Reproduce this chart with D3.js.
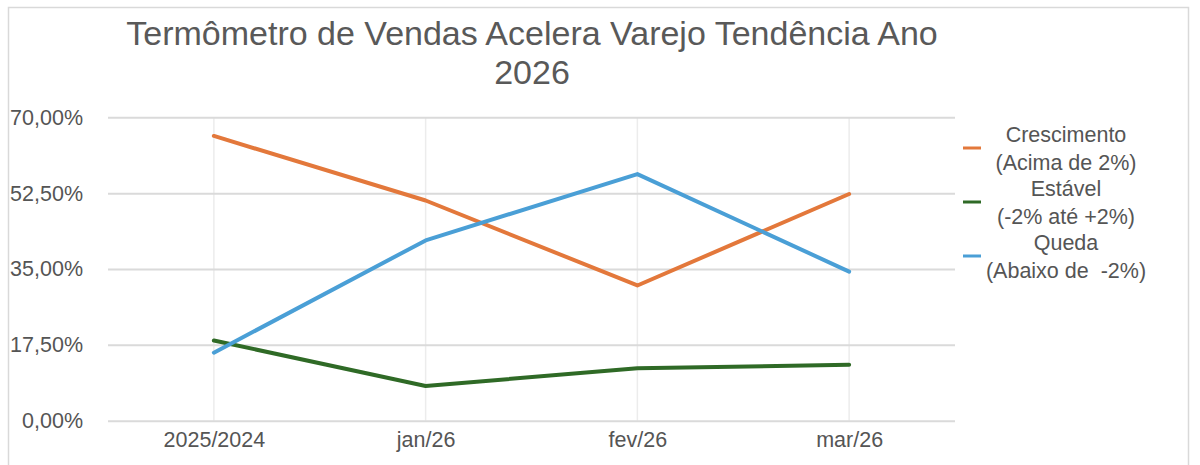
<!DOCTYPE html>
<html>
<head>
<meta charset="utf-8">
<script src="https://cdn.jsdelivr.net/npm/d3@7"></script>
<style>
  body { margin: 0; background: #fff; }
  text { font-family: "Liberation Sans", Arial, sans-serif; }
</style>
</head>
<body>
<div id="chart"></div>
<script>
// categories and series (percent)
var categories = ["2025/2024", "jan/26", "fev/26", "mar/26"];
var crescimento = [65.7, 50.8, 31.2, 52.3];
var estavel = [18.5, 8.0, 12.1, 12.9];
var queda = [15.7, 41.6, 56.9, 34.4];
var yTicks = [0, 17.5, 35, 52.5, 70];

var seriesNames = ["Crescimento\n(Acima de 2%)", "Estável\n(-2% até +2%)", "Queda\n(Abaixo de  -2%)"];
var seriesValues = [crescimento, estavel, queda];
var colors = ["#e3783b", "#2f6a26", "#4a9fd6"];

var W = 1200, H = 465;
var plotLeft = 108, plotRight = 955, plotTop = 117.3, plotBottom = 420.7;

var svg = d3.select("#chart").append("svg")
    .attr("width", W)
    .attr("height", H);

// outer frame
svg.append("rect")
    .attr("x", 8.5).attr("y", 7.5)
    .attr("width", 1180).attr("height", 470)
    .attr("fill", "none")
    .attr("stroke", "#d9d9d9")
    .attr("stroke-width", 1.5);

var x = d3.scalePoint().domain(categories).range([plotLeft, plotRight]).padding(0.5);
var y = d3.scaleLinear().domain([0, 70]).range([plotBottom, plotTop]);

// vertical gridlines
svg.append("g").selectAll("line")
    .data(categories)
    .enter().append("line")
    .attr("x1", function(d) { return x(d); })
    .attr("x2", function(d) { return x(d); })
    .attr("y1", plotTop).attr("y2", plotBottom)
    .attr("stroke", "#ececec")
    .attr("stroke-width", 1.5);

// horizontal gridlines + y labels
var yAxis = svg.append("g")
    .attr("transform", "translate(" + plotLeft + ",0)")
    .call(d3.axisLeft(y).tickValues(yTicks)
        .tickSize(-(plotRight - plotLeft))
        .tickPadding(25)
        .tickFormat(function(d) { return d.toFixed(2).replace(".", ",") + "%"; }));
yAxis.select(".domain").remove();
yAxis.selectAll(".tick line").attr("stroke", "#dadada").attr("stroke-width", 2);
yAxis.selectAll(".tick text")
    .attr("fill", "#555")
    .style("font-size", "21.5px");

// x labels
var xAxis = svg.append("g")
    .attr("transform", "translate(0," + plotBottom + ")")
    .call(d3.axisBottom(x).tickSize(0).tickPadding(11));
xAxis.select(".domain").remove();
xAxis.selectAll(".tick text")
    .attr("fill", "#555")
    .style("font-size", "21.5px");

// lines
var line = d3.line()
    .x(function(d, i) { return x(categories[i]); })
    .y(function(d) { return y(d); });

svg.append("g").selectAll("path")
    .data(seriesValues)
    .enter().append("path")
    .attr("d", line)
    .attr("fill", "none")
    .attr("stroke", function(d, i) { return colors[i]; })
    .attr("stroke-width", 4)
    .attr("stroke-linejoin", "round")
    .attr("stroke-linecap", "round");

// title
var title = svg.append("text")
    .attr("text-anchor", "middle")
    .attr("fill", "#595959")
    .style("font-size", "34px");
title.append("tspan").attr("x", 532).attr("y", 45).text("Termômetro de Vendas Acelera Varejo Tendência Ano");
title.append("tspan").attr("x", 532).attr("y", 84).text("2026");

// legend
var legend = svg.append("g").selectAll("g")
    .data(seriesNames)
    .enter().append("g")
    .attr("transform", function(d, i) { return "translate(0," + (148 + i * 54) + ")"; });

legend.append("line")
    .attr("x1", 963).attr("x2", 981)
    .attr("y1", 0).attr("y2", 0)
    .attr("stroke", function(d, i) { return colors[i]; })
    .attr("stroke-width", 3);

legend.append("text")
    .attr("text-anchor", "middle")
    .attr("fill", "#555")
    .style("font-size", "21.5px")
    .style("white-space", "pre")
    .each(function(d) {
        var parts = d.split("\n");
        var t = d3.select(this);
        t.append("tspan").attr("x", 1066).attr("y", -6).text(parts[0]);
        t.append("tspan").attr("x", 1066).attr("y", 22).text(parts[1]);
    });
</script>
</body>
</html>
